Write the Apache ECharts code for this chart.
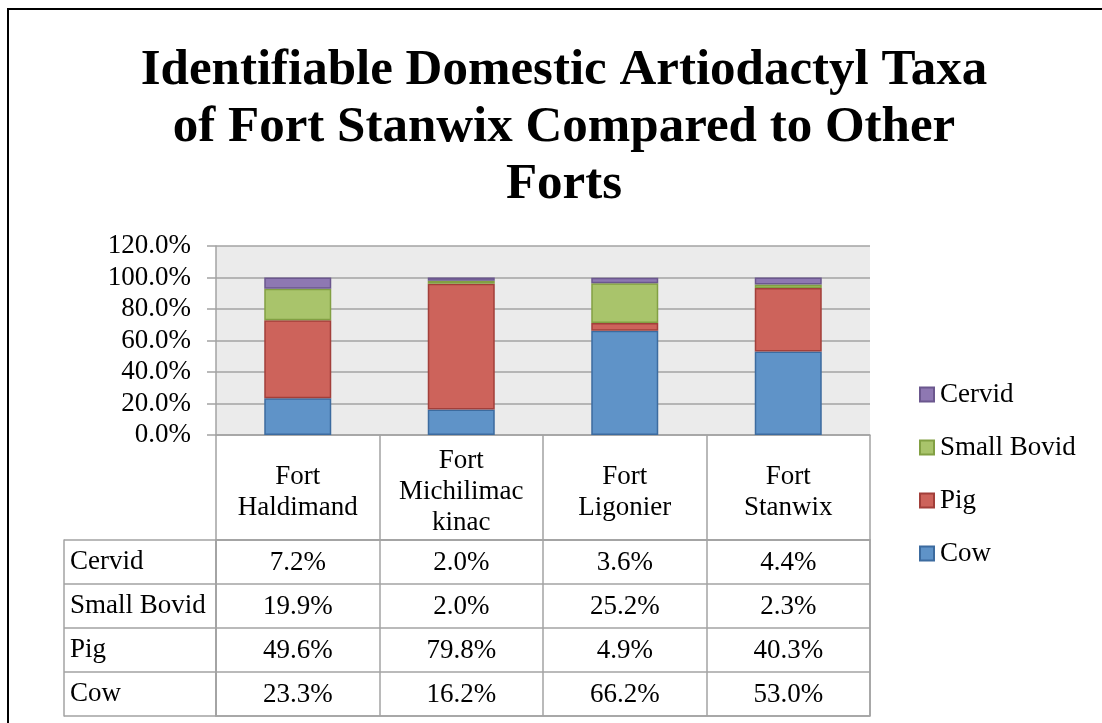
<!DOCTYPE html>
<html>
<head>
<meta charset="utf-8">
<title>Identifiable Domestic Artiodactyl Taxa</title>
<script src="https://cdn.jsdelivr.net/npm/echarts@6/dist/echarts.min.js"></script>
<style>
  html, body { margin: 0; padding: 0; background: #fff; }
  #frame {
    position: absolute; left: 7px; top: 8px; width: 1200px; height: 800px;
    border-left: 2px solid #000; border-top: 2px solid #000;
  }
  #chart { position: absolute; left: 0; top: 0; width: 1102px; height: 723px; }
</style>
</head>
<body>
<div id="frame"></div>
<div id="chart"></div>
<script>
// Forts (column headers of the data table and bar categories)
const forts = ['Fort\nHaldimand', 'Fort\nMichilimac\nkinac', 'Fort\nLigonier', 'Fort\nStanwix'];

// Taxa, top row of the table first
const taxa = ['Cervid', 'Small Bovid', 'Pig', 'Cow'];

// Percentage of identifiable specimens per fort
const cervid     = [7.2, 2.0, 3.6, 4.4];
const smallBovid = [19.9, 2.0, 25.2, 2.3];
const pig        = [49.6, 79.8, 4.9, 40.3];
const cow        = [23.3, 16.2, 66.2, 53.0];

// Value axis ticks (fractions)
const yTicks = { min: 0, max: 1.2, interval: 0.2 };

const FONT = "'Liberation Serif', 'Times New Roman', serif";
const TEXT_SIZE = 27;
const GRID_LINE = '#a3a3a3';

const seriesStyle = {
  Cow:           { fill: '#5f93c8', border: '#3c6b9f' },
  Pig:           { fill: '#cd635b', border: '#a23f3a' },
  'Small Bovid': { fill: '#a9c46b', border: '#82a043' },
  Cervid:        { fill: '#8e78b2', border: '#6b578e' }
};

const byTaxon = { Cervid: cervid, 'Small Bovid': smallBovid, Pig: pig, Cow: cow };

// Stacked bars, bottom segment first
const barSeries = ['Cow', 'Pig', 'Small Bovid', 'Cervid'].map(name => ({
  name: name,
  type: 'bar',
  stack: 'total',
  xAxisIndex: 0,
  yAxisIndex: 0,
  barWidth: 67,
  data: byTaxon[name].map(v => v / 100),
  itemStyle: {
    color: seriesStyle[name].fill,
    borderColor: seriesStyle[name].border,
    borderWidth: 1.5
  }
}));

// Cells of the data table: [column, row, value]
const tableCells = [];
taxa.forEach((t, r) => {
  byTaxon[t].forEach((v, c) => tableCells.push([c, r, v]));
});

const chart = echarts.init(document.getElementById('chart'), null, { renderer: 'canvas' });

chart.setOption({
  backgroundColor: 'transparent',
  animation: false,
  textStyle: { fontFamily: FONT },
  title: {
    text: 'Identifiable Domestic Artiodactyl Taxa\nof Fort Stanwix Compared to Other\nForts',
    left: 559,
    top: 37,
    textAlign: 'center',
    textStyle: {
      fontFamily: FONT,
      fontWeight: 'bold',
      fontSize: 51,
      lineHeight: 57,
      color: '#000'
    }
  },
  legend: {
    orient: 'vertical',
    left: 919,
    top: 381,
    padding: 0,
    icon: 'rect',
    itemWidth: 14,
    itemHeight: 14,
    itemGap: 26,
    data: ['Cervid', 'Small Bovid', 'Pig', 'Cow'],
    textStyle: { fontFamily: FONT, fontSize: TEXT_SIZE, lineHeight: 26, color: '#000', padding: [0, 0, 0, 1] }
  },
  grid: [
    {
      // plot area
      left: 216, right: 232, top: 246, bottom: 723 - 435,
      show: true, backgroundColor: '#ebebeb', borderWidth: 0
    },
    {
      // data table body
      left: 216, right: 232, top: 540, bottom: 723 - 716,
      show: true, backgroundColor: '#fff', borderColor: GRID_LINE, borderWidth: 1.5
    }
  ],
  xAxis: [
    {
      gridIndex: 0,
      type: 'category',
      data: forts,
      axisLine: { show: true, lineStyle: { color: GRID_LINE, width: 1.5 } },
      axisTick: { show: false },
      axisLabel: { show: false }
    },
    {
      gridIndex: 1,
      type: 'category',
      data: forts,
      position: 'top',
      axisLine: { show: true, lineStyle: { color: GRID_LINE, width: 1.5 } },
      axisTick: {
        show: true, interval: 0, length: 105,
        lineStyle: { color: GRID_LINE, width: 1.5 }
      },
      splitLine: { show: true, interval: 0, lineStyle: { color: GRID_LINE, width: 1.5 } },
      axisLabel: {
        interval: 0,
        margin: 48,
        verticalAlign: 'middle',
        lineHeight: 31,
        fontFamily: FONT,
        fontSize: TEXT_SIZE,
        color: '#000'
      }
    }
  ],
  yAxis: [
    {
      gridIndex: 0,
      type: 'value',
      min: yTicks.min,
      max: yTicks.max,
      interval: yTicks.interval,
      axisLine: { show: true, lineStyle: { color: GRID_LINE, width: 1.5 } },
      axisTick: { show: true, length: 9, lineStyle: { color: GRID_LINE, width: 1.5 } },
      splitLine: { show: true, lineStyle: { color: GRID_LINE, width: 1.5 } },
      axisLabel: {
        margin: 25,
        fontFamily: FONT,
        fontSize: TEXT_SIZE,
        color: '#000',
        formatter: v => (v * 100).toFixed(1) + '%'
      }
    },
    {
      gridIndex: 1,
      type: 'category',
      data: taxa,
      inverse: true,
      axisLine: { show: true, lineStyle: { color: GRID_LINE, width: 1.5 } },
      axisTick: {
        show: true, interval: 0, length: 152,
        lineStyle: { color: GRID_LINE, width: 1.5 }
      },
      splitLine: { show: true, interval: 0, lineStyle: { color: GRID_LINE, width: 1.5 } },
      axisLabel: {
        interval: 0,
        align: 'left',
        margin: 146,
        padding: [5, 0, 0, 0],
        fontFamily: FONT,
        fontSize: TEXT_SIZE,
        color: '#000'
      }
    },
    {
      // outer left edge of the row-label column
      gridIndex: 1,
      type: 'category',
      data: taxa,
      position: 'left',
      offset: 152,
      axisLine: { show: true, lineStyle: { color: GRID_LINE, width: 1.5 } },
      axisTick: { show: false },
      axisLabel: { show: false },
      splitLine: { show: false }
    }
  ],
  series: barSeries.concat([
    {
      name: 'table',
      type: 'custom',
      xAxisIndex: 1,
      yAxisIndex: 1,
      silent: true,
      data: tableCells,
      renderItem: function (params, api) {
        const p = api.coord([api.value(0), api.value(1)]);
        return {
          type: 'text',
          x: p[0],
          y: p[1] + 1,
          style: {
            text: api.value(2).toFixed(1) + '%',
            fill: '#000',
            fontFamily: FONT,
            fontSize: TEXT_SIZE,
            align: 'center',
            verticalAlign: 'middle'
          }
        };
      }
    }
  ])
});
</script>
</body>
</html>
